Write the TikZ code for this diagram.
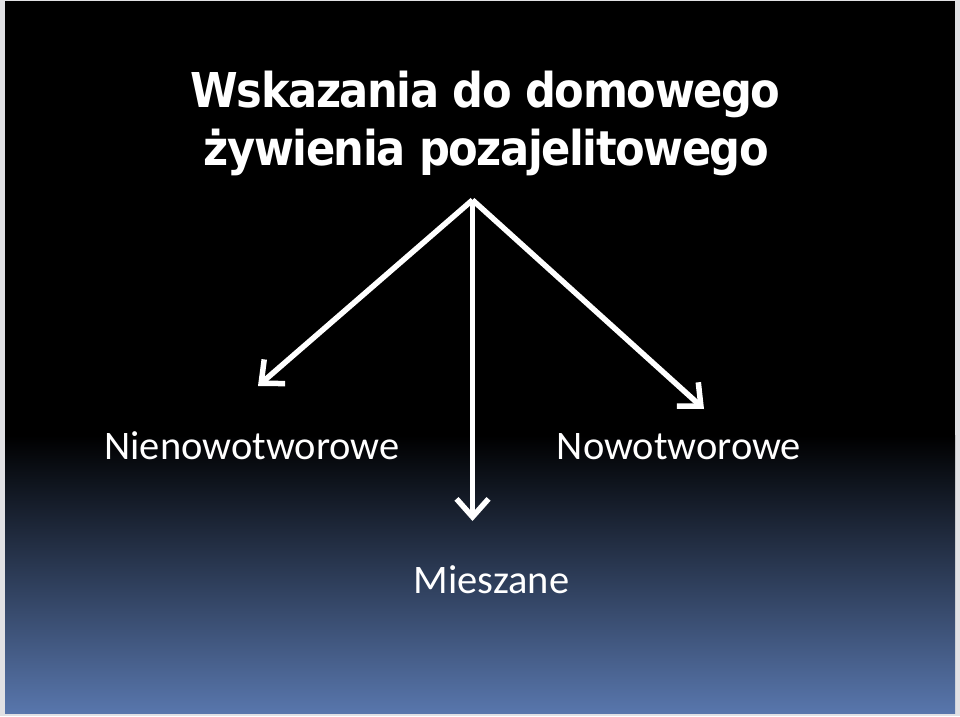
\documentclass[tikz,border=0pt]{standalone}
\usepackage{fontspec}
\setmainfont{Carlito}
\newfontfamily\titlefont{DejaVu Sans Condensed}[LetterSpace=-3.0]
\usetikzlibrary{arrows.meta}
\definecolor{bgblue}{RGB}{88,118,172}
\definecolor{edge}{RGB}{225,225,228}
\tikzset{
  titletext/.style={text=white, font=\titlefont\bfseries\fontsize{48}{56}\selectfont, anchor=base, inner sep=0pt},
  labeltext/.style={text=white, font=\fontsize{40.5}{48}\selectfont, anchor=base, inner sep=0pt},
  branch/.style={draw=white, line width=5.5pt, -{Straight Barb[length=18pt,width=32pt,line width=5.5pt]}}
}
\begin{document}
\begin{tikzpicture}[x=1pt,y=1pt]
  \useasboundingbox (0,0) rectangle (960,716);
  \fill[edge] (0,0) rectangle (960,716);
  \fill[black] (5,280) rectangle (955,715);
  \shade[top color=black, bottom color=bgblue] (5,3) rectangle (955,280.5);
  \node[titletext] (t1) at (485.5,608) {Wskazania do domowego};
  \node[titletext] (t2) at (486.5,550) {żywienia pozajelitowego};
  \coordinate (apex) at (472.5,516);
  \coordinate (endL) at (258,330);
  \coordinate (endM) at (472.5,195);
  \coordinate (endR) at (704,307);
  \draw[branch] (apex) -- (endL);
  \draw[branch] (apex) -- (endM);
  \draw[branch] (apex) -- (endR);
  \node[labeltext] (nien) at (252,257) {Nienowotworowe};
  \node[labeltext] (now) at (679,257) {Nowotworowe};
  \node[labeltext] (mies) at (491.5,123) {Mieszane};
\end{tikzpicture}
\end{document}
